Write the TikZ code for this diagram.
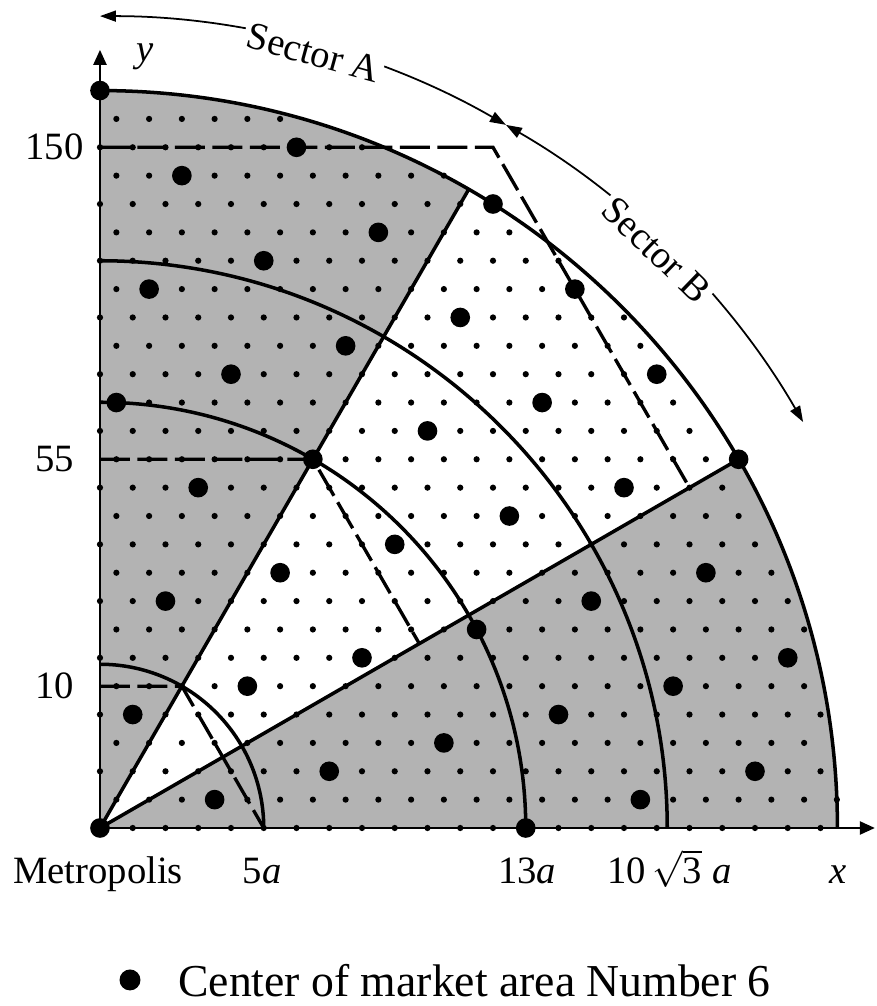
\documentclass[tikz,border=0pt]{standalone}
\usepackage{fontspec}
\setmainfont{Liberation Serif}
\usetikzlibrary{arrows.meta}
\definecolor{mkGray}{HTML}{B3B3B3}

\begin{document}
\begin{tikzpicture}[
    x=0.655cm, y=0.655cm,
    zone/.style={fill=mkGray},
    ring/.style={line width=2pt},
    ray/.style={line width=2pt},
    guide/.style={line width=1.9pt, dash pattern=on 0.6cm off 0.15cm},
    axis/.style={line width=1.3pt, -{Triangle[length=0.3cm,width=0.26cm]}},
    secarrow/.style={line width=1pt, {Triangle[length=0.32cm,width=0.22cm]}-{Triangle[length=0.32cm,width=0.22cm]}},
    seclabel/.style={fill=white, inner sep=2pt, font=\fontsize{22}{26}\selectfont},
    lbl/.style={font=\fontsize{22}{26}\selectfont},
    legendtext/.style={font=\fontsize{26}{30}\selectfont, inner sep=0pt}
]
    \useasboundingbox (-3.053,-5.435) rectangle (23.695,25.282);
    \def\R{22.5167}

    \coordinate (O) at (0,0);
    \coordinate (xend) at (23.66,0);
    \coordinate (yend) at (0,23.76);
    \coordinate (p5) at (60:5);
    \coordinate (p13) at (60:13);
    \coordinate (p24) at (60:24);
    \coordinate (f5) at (5,0);
    \coordinate (f13) at (30:11.2583);
    \coordinate (f24) at (30:20.7846);

    % shaded sectors
    \fill[zone] (O) -- (\R,0) arc[start angle=0, end angle=30, radius=\R] -- cycle;
    \fill[zone] (O) -- (60:\R) arc[start angle=60, end angle=90, radius=\R] -- cycle;

    % small lattice
    \foreach \j in {0,...,26}{
        \foreach \i in {0,...,23}{
            \pgfmathsetmacro{\sdx}{\i+0.5*mod(\j,2)}
            \pgfmathsetmacro{\sdy}{0.8660254*\j}
            \pgfmathtruncatemacro{\keep}{(\sdx*\sdx+\sdy*\sdy<507.1)}
            \ifnum\keep=1 \fill (\sdx,\sdy) circle[radius=0.095]; \fi
        }
    }

    % market centers
    \foreach \m in {-7,...,7}{
        \foreach \n in {-7,...,7}{
            \pgfmathsetmacro{\bdx}{3.5*\m+2.5*\n}
            \pgfmathsetmacro{\bdy}{0.8660254*(\m-3*\n)}
            \pgfmathtruncatemacro{\keep}{(\bdx>-0.01)*(\bdy>-0.01)*(\bdx*\bdx+\bdy*\bdy<507.1)}
            \ifnum\keep=1 \fill (\bdx,\bdy) circle[radius=0.3]; \fi
        }
    }

    \draw[ring] (5,0) arc[start angle=0, end angle=90, radius=5];
    \draw[ring] (13,0) arc[start angle=0, end angle=90, radius=13];
    \draw[ring] (17.3205,0) arc[start angle=0, end angle=90, radius=17.3205];
    \draw[ring] (\R,0) arc[start angle=0, end angle=90, radius=\R];

    \draw[ray] (O) -- (60:\R);
    \draw[ray] (O) -- (30:\R);

    \draw[guide] (O |- p24) -- (p24) -- (f24);
    \draw[guide] (O |- p13) -- (p13) -- (f13);
    \draw[guide] (O |- p5) -- (p5) -- (f5);

    \draw[axis] (O) -- (xend);
    \draw[axis] (O) -- (yend);

    \draw[secarrow] (90:24.79) arc[start angle=90, end angle=60, radius=24.79];
    \draw[secarrow] (60:24.79) arc[start angle=60, end angle=30, radius=24.79];
    \node[seclabel, rotate=-15.4] (secA) at (74.6:24.55) {Sector A};
    \node[seclabel, rotate=-44] (secB) at (46.1:24.5) {Sector B};

    \node[lbl] (ylab) at (1.374,23.54) {\textit{y}};
    \node[lbl, anchor=base] (xlab) at (22.53,-1.69) {\textit{x}};
    \node[lbl, anchor=base] (metro) at (-0.06,-1.69) {Metropolis};
    \node[lbl, anchor=base] (r5) at (4.95,-1.69) {5\textit{a}};
    \node[lbl, anchor=base] (r13) at (13.04,-1.69) {13\textit{a}};
    \node[lbl, anchor=base] (r17) at (17.4,-1.69) {10\,$\sqrt{\hbox{3}}$\;\textit{a}};

    \node[lbl] (n150) at (-1.39,20.785) {150};
    \node[lbl] (n55) at (-1.39,11.258) {55};
    \node[lbl] (n10) at (-1.39,4.330) {10};

    \fill (0.916,-4.64) circle[radius=0.32];
    \node[legendtext, anchor=base west] (leg) at (2.38,-5.16) {Center of market area Number 6};
\end{tikzpicture}
\end{document}
